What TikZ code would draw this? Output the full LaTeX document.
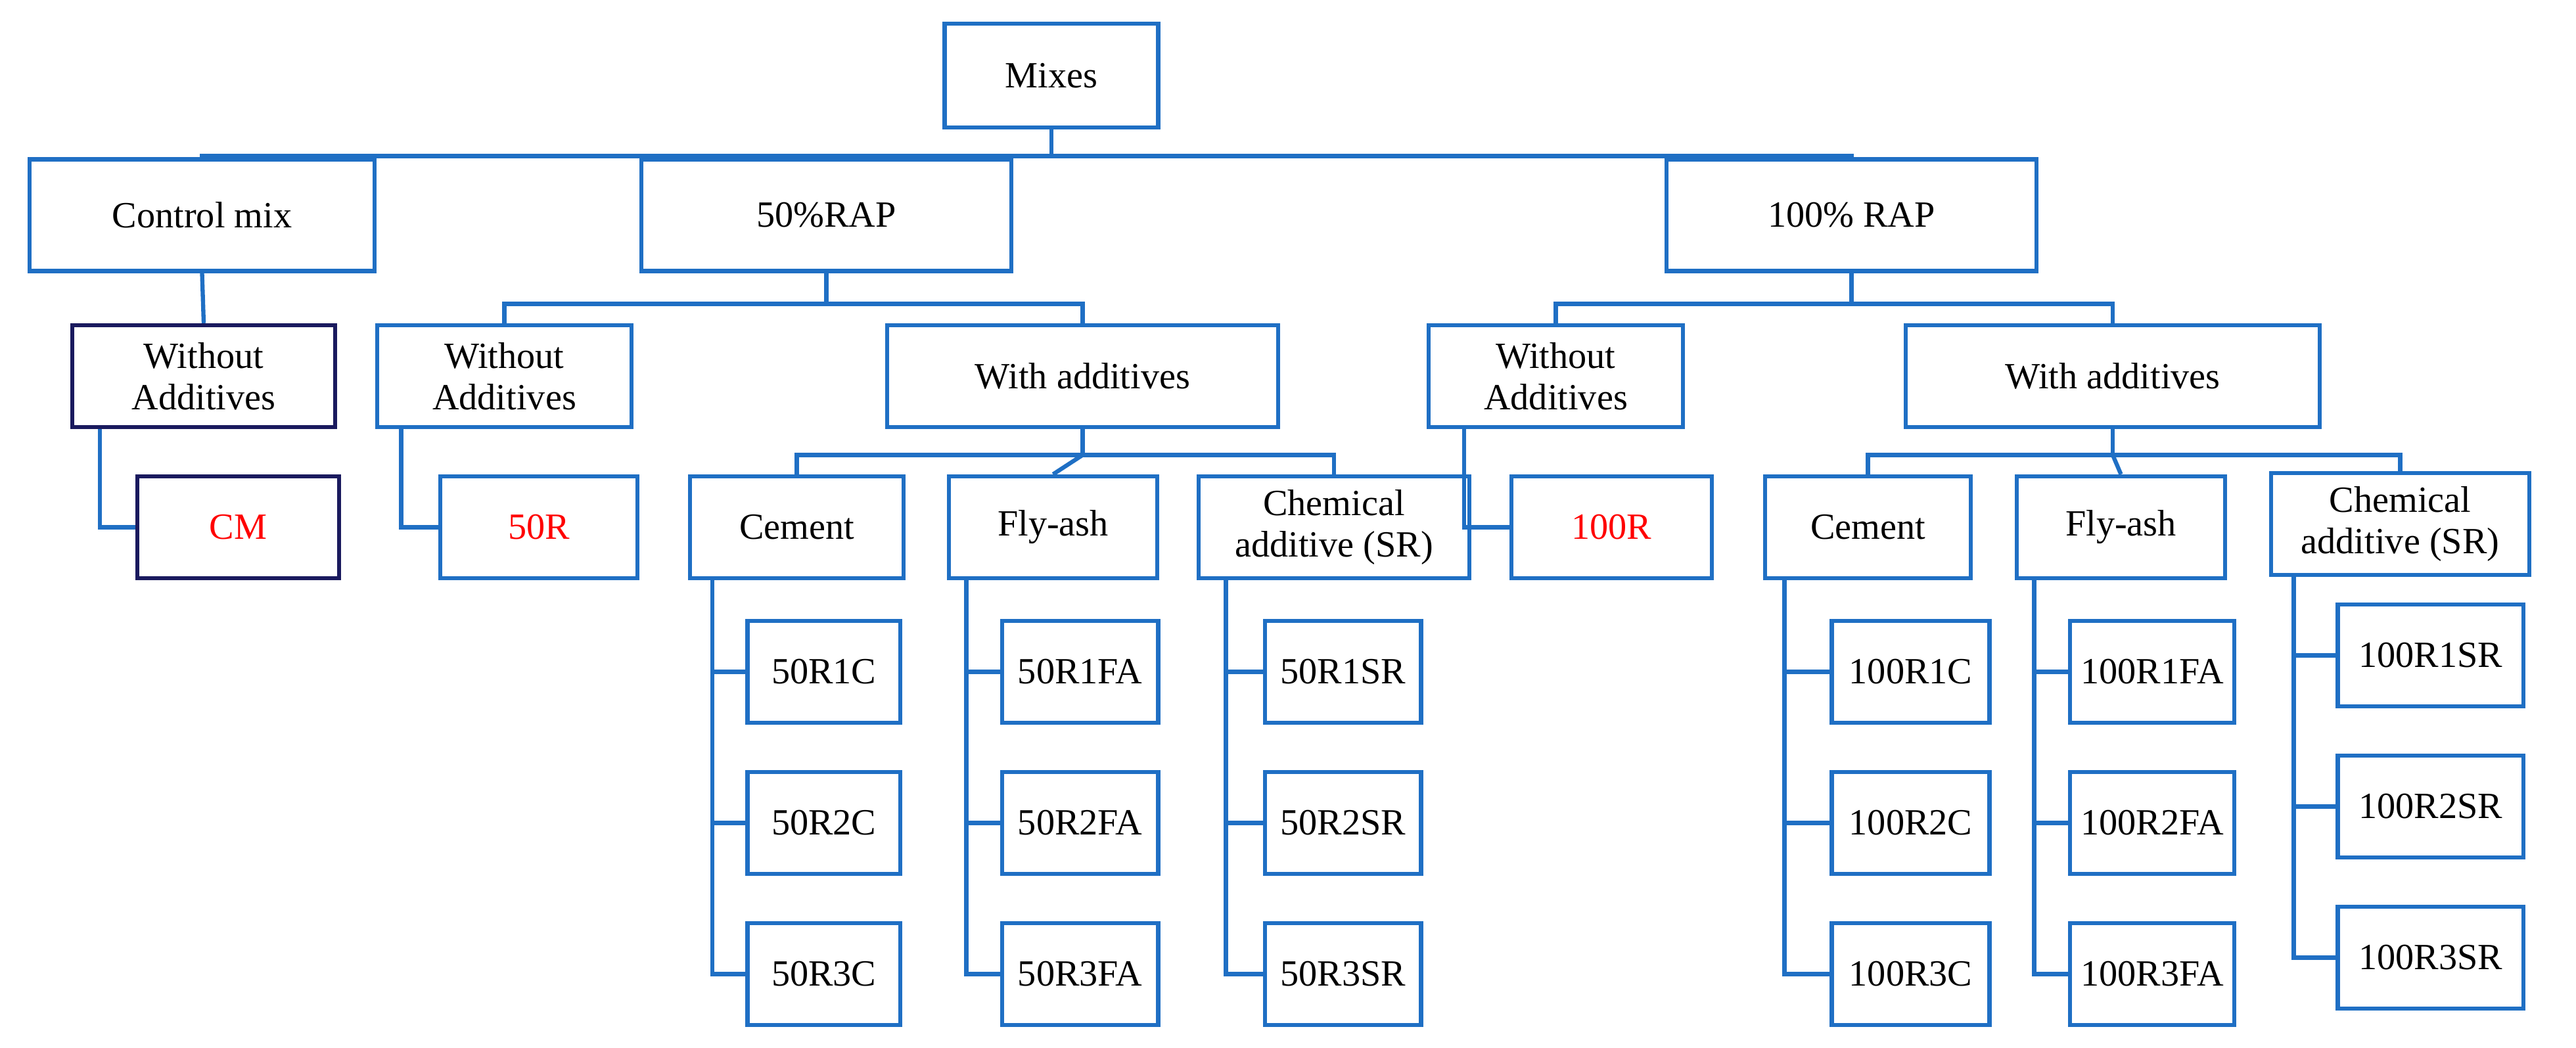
\documentclass[tikz,border=0pt]{standalone}
\usepackage{fontspec}
\setmainfont{Liberation Serif}
\usetikzlibrary{calc}
\definecolor{bl}{HTML}{1F6FC4}
\definecolor{nv}{HTML}{1A1A5E}
\begin{document}
\begin{tikzpicture}[x=0.025cm,y=-0.025cm,
 box/.style={draw=bl,line width=1.8pt,fill=white,align=center,inner sep=2pt,font=\fontsize{16}{18}\selectfont},
 ln/.style={draw=bl,line width=1.8pt},
 red/.style={text={rgb,255:red,255;green,0;blue,0}}]
\useasboundingbox (0,0) rectangle (1568,638);
\node[box,minimum width=3.25cm,minimum height=1.575cm] (mix) at (640,46) {Mixes};
\node[box,minimum width=5.25cm,minimum height=1.7cm] (ctrl) at (123,131) {Control mix};
\node[box,minimum width=5.625cm,minimum height=1.7cm] (r50) at (503,131) {50\%RAP};
\node[box,minimum width=5.625cm,minimum height=1.7cm] (r100) at (1127,131) {100\% RAP};
\node[box,draw=nv,minimum width=4cm,minimum height=1.55cm] (wa0) at (124,229) {Without\\Additives};
\node[box,draw=nv,red,minimum width=3.075cm,minimum height=1.55cm] (cm) at (145,321) {CM};
\node[box,minimum width=3.875cm,minimum height=1.55cm] (wa1) at (307,229) {Without\\Additives};
\node[box,red,minimum width=3cm,minimum height=1.55cm] (r50r) at (328,321) {50R};
\node[box,minimum width=5.95cm,minimum height=1.55cm] (wi1) at (659,229) {With additives};
\node[box,minimum width=3.875cm,minimum height=1.55cm] (wa2) at (947,229) {Without\\Additives};
\node[box,minimum width=6.3cm,minimum height=1.55cm] (wi2) at (1286,229) {With additives};
\node[box,minimum width=3.25cm,minimum height=1.55cm] (cem1) at (485,321) {Cement};
\node[box,minimum width=3.175cm,minimum height=1.55cm] (fa1) at (641,321) {Fly-ash};
\node[box,minimum width=4.125cm,minimum height=1.55cm] (sr1) at (812,321) {Chemical\\additive (SR)};
\node[box,red,minimum width=3.05cm,minimum height=1.55cm] (r100r) at (981,321) {100R};
\node[box,minimum width=3.125cm,minimum height=1.55cm] (cem2) at (1137,321) {Cement};
\node[box,minimum width=3.175cm,minimum height=1.55cm] (fa2) at (1291,321) {Fly-ash};
\node[box,minimum width=3.925cm,minimum height=1.55cm] (sr2) at (1461,319) {Chemical\\additive (SR)};
% leaves
\foreach \i/\y in {1/409,2/501,3/593}{
 \node[box,minimum width=2.325cm,minimum height=1.55cm] (c\i) at (501.5,\y) {50R\i C};
 \node[box,minimum width=2.375cm,minimum height=1.55cm] (f\i) at (657.5,\y) {50R\i FA};
 \node[box,minimum width=2.375cm,minimum height=1.55cm] (s\i) at (817.5,\y) {50R\i SR};
 \node[box,minimum width=2.4cm,minimum height=1.55cm] (cc\i) at (1163,\y) {100R\i C};
 \node[box,minimum width=2.5cm,minimum height=1.55cm] (ff\i) at (1310,\y) {100R\i FA};
}
\foreach \i/\y in {1/399,2/491,3/583}{
 \node[box,minimum width=2.825cm,minimum height=1.55cm] (ss\i) at (1479.5,\y) {100R\i SR};
}
% connectors
\coordinate (b0) at (640,95);
\draw[ln] (mix.south) -- (b0);
\draw[ln] (ctrl.north) |- (b0) -| (r100.north);
\draw[ln] (b0) -| (r50.north);
\draw[ln] (ctrl.south) -- (wa0.north);
\coordinate (b1) at (503,185);
\draw[ln] (r50.south) -- (b1);
\draw[ln] (wa1.north) |- (b1) -| (wi1.north);
\coordinate (b2) at (1127,185);
\draw[ln] (r100.south) -- (b2);
\draw[ln] (wa2.north) |- (b2) -| (wi2.north);
\coordinate (b3) at (659,277);
\draw[ln] (wi1.south) -- (b3);
\draw[ln] (cem1.north) |- (b3) -| (sr1.north);
\draw[ln] (b3) -- (fa1.north);
\coordinate (b4) at (1286,277);
\draw[ln] (wi2.south) -- (b4);
\draw[ln] (cem2.north) |- (b4) -| (sr2.north);
\draw[ln] (b4) -- (fa2.north);
\draw[ln] ($(wa0.south west)+(18,0)$) |- (cm.west);
\draw[ln] ($(wa1.south west)+(16,0)$) |- (r50r.west);
\draw[ln] ($(wa2.south west)+(23,0)$) |- (r100r.west);
\draw[ln] ($(cem1.south west)+(15,0)$) |- (c3.west);
\draw[ln] ($(fa1.south west)+(12,0)$) |- (f3.west);
\draw[ln] ($(sr1.south west)+(18,0)$) |- (s3.west);
\draw[ln] ($(cem2.south west)+(13,0)$) |- (cc3.west);
\draw[ln] ($(fa2.south west)+(12,0)$) |- (ff3.west);
\draw[ln] ($(sr2.south west)+(15,0)$) |- (ss3.west);
\foreach \i in {1,2}{
 \draw[ln] (c\i.west) -- ++(-20,0);
 \draw[ln] (f\i.west) -- ++(-20,0);
 \draw[ln] (s\i.west) -- ++(-22,0);
 \draw[ln] (cc\i.west) -- ++(-27,0);
 \draw[ln] (ff\i.west) -- ++(-20,0);
 \draw[ln] (ss\i.west) -- ++(-25,0);
}
\end{tikzpicture}
\end{document}
